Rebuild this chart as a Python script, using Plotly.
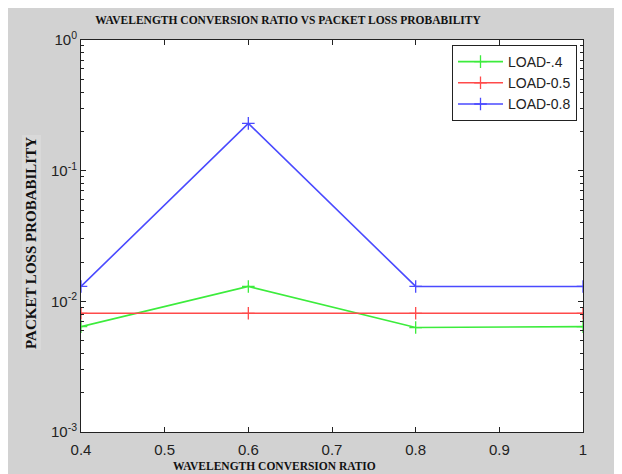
import plotly.graph_objects as go

ratio = [0.4, 0.6, 0.8, 1.0]
load_04 = [0.0064, 0.013, 0.0063, 0.0064]
load_05 = [0.0081, 0.0081, 0.0081, 0.0081]
load_08 = [0.013, 0.23, 0.013, 0.013]
series_names = ["LOAD-.4", "LOAD-0.5", "LOAD-0.8"]
series_colors = ["#3cec3c", "#ff4a4a", "#4a4aff"]

x_tickvals = [0.4, 0.5, 0.6, 0.7, 0.8, 0.9, 1.0]
x_ticktext = ["0.4", "0.5", "0.6", "0.7", "0.8", "0.9", "1"]
y_tickvals = [1e-3, 1e-2, 1e-1, 1e0]
y_ticktext = ["10<sup>-3</sup>", "10<sup>-2</sup>", "10<sup>-1</sup>", "10<sup>0</sup>"]

fig = go.Figure()
for name, vals, col in zip(series_names, [load_04, load_05, load_08], series_colors):
    fig.add_trace(go.Scatter(
        x=ratio, y=vals, name=name, mode="lines+markers",
        line=dict(color=col, width=1.6),
        marker=dict(symbol="cross-thin", size=9, line=dict(color=col, width=1.3)),
    ))

W, H = 614, 466
L, R, T, B = 73, 39, 32, 42
PW, PH = W - L - R, H - T - B

def px(x):
    return (x - L) / PW

def py(y):
    return (H - B - y) / PH

axis_font = dict(family="Arial, Liberation Sans", size=15, color="#222")
serif = "Liberation Serif, Times New Roman"
fig.update_layout(
    width=W, height=H,
    paper_bgcolor="#d2d2d2", plot_bgcolor="white",
    margin=dict(l=L, r=R, t=T, b=B),
    title=dict(text="<b>WAVELENGTH CONVERSION RATIO VS PACKET LOSS PROBABILITY</b>",
               font=dict(family=serif, size=11.5, color="#111"),
               x=280 / W, xanchor="center", y=1 - 12 / H, yanchor="middle"),
    xaxis=dict(range=[0.4, 1.0], tickvals=x_tickvals, ticktext=x_ticktext,
               ticks="inside", ticklen=5, tickcolor="#222", showline=True, linecolor="#222",
               linewidth=1, mirror="allticks", showgrid=False, zeroline=False,
               automargin=False, tickfont=axis_font, ticklabelstandoff=4),
    yaxis=dict(type="log", range=[-3, 0], tickvals=y_tickvals, ticktext=y_ticktext,
               ticks="inside", ticklen=5, tickcolor="#222", showline=True, linecolor="#222",
               linewidth=1, mirror="allticks", showgrid=False, zeroline=False,
               automargin=False, tickfont=axis_font,
               minor=dict(ticks="inside", ticklen=3, tickcolor="#222", showgrid=False,
                          tickvals=[k * 10 ** e for e in (-3, -2, -1) for k in range(2, 10)])),
    legend=dict(x=px(569), y=py(37), xanchor="right", yanchor="top",
                bgcolor="white", bordercolor="#222", borderwidth=1,
                font=dict(family="Arial, Liberation Sans", size=14, color="#222"),
                itemwidth=45, tracegroupgap=0),
    showlegend=True,
    annotations=[
        dict(text="<b>WAVELENGTH CONVERSION RATIO</b>", xref="paper", yref="paper",
             x=px(266), y=py(458), xanchor="center", yanchor="middle", showarrow=False,
             font=dict(family=serif, size=11.5, color="#111")),
        dict(text="<b>PACKET LOSS PROBABILITY</b>", xref="paper", yref="paper",
             x=px(23), y=py(235), xanchor="center", yanchor="middle", showarrow=False,
             textangle=-90, font=dict(family=serif, size=15, color="#111")),
    ],
    shapes=[
        dict(type="rect", xref="paper", yref="paper", x0=px(14), x1=px(33),
             y0=py(342), y1=py(127), fillcolor="#d9d9d9",
             line=dict(width=0), layer="below"),
    ],
)
fig.write_html("out.html")
